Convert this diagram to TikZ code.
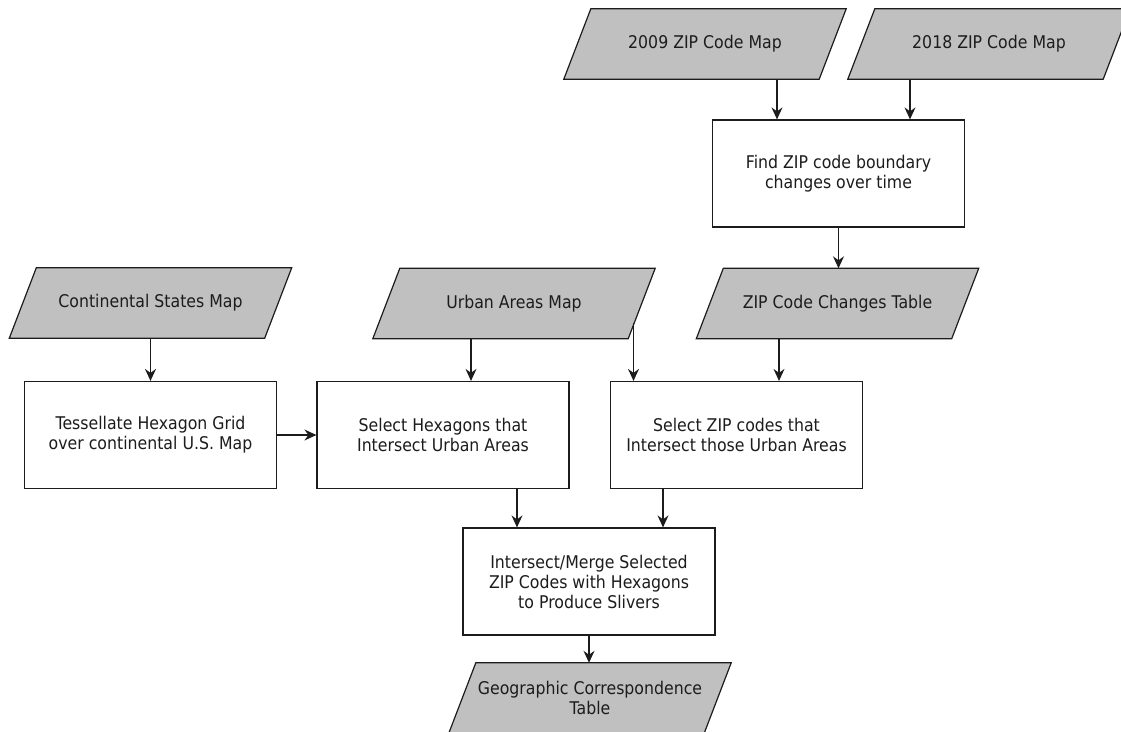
\documentclass[tikz,border=0pt]{standalone}
\usepackage{fontspec}
\setmainfont{DejaVu Sans}[FakeStretch=0.9]
\usetikzlibrary{arrows.meta,backgrounds}
\definecolor{datagray}{RGB}{192,192,192}
\definecolor{inkline}{RGB}{28,28,28}
\begin{document}
\begin{tikzpicture}[x=1pt,y=-1pt,
  every node/.style={font=\fontsize{17.5}{20}\selectfont, text=inkline, align=center},
  procbox/.style={draw=inkline, line width=1.2pt, fill=white,
    minimum width=252pt, minimum height=107pt, inner sep=0pt},
  datapara/.style={minimum width=255pt, minimum height=70pt, inner sep=0pt},
  paraface/.style={fill=datagray, draw=inkline, line width=1.2pt},
  flow/.style={draw=inkline, line width=1.2pt,
    -{Stealth[length=12pt,width=11pt,inset=4pt]}}]
\useasboundingbox (0,0) rectangle (1121,731);

% data inputs and outputs (parallelograms)
\node[datapara] (p2009) at (705,44)    {2009 ZIP Code Map};
\node[datapara] (p2018) at (989,44)    {2018 ZIP Code Map};
\node[datapara] (pcont) at (150.5,303) {Continental States Map};
\node[datapara] (purban) at (514,303.5) {Urban Areas Map};
\node[datapara] (pzip)  at (837.5,303.5) {ZIP Code Changes Table};
\node[datapara] (pgeo)  at (590,698)   {Geographic Correspondence\\Table};

% processing steps
\node[procbox] (find)   at (838.5,173.5) {Find ZIP code boundary\\changes over time};
\node[procbox] (tess)   at (150.5,435)   {Tessellate Hexagon Grid\\over continental U.S. Map};
\node[procbox] (selhex) at (443,435)     {Select Hexagons that\\Intersect Urban Areas};
\node[procbox] (selzip) at (736.5,435)   {Select ZIP codes that\\Intersect those Urban Areas};
\node[procbox] (merge)  at (589,581.5)   {Intersect/Merge Selected\\ZIP Codes with Hexagons\\to Produce Slivers};

% slanted outlines behind the data labels
\begin{scope}[on background layer]
  \foreach \n in {p2009,p2018,pcont,purban,pzip,pgeo}
    \path[paraface] ([xshift=-13.5pt]\n.south west) -- ([xshift=-13.5pt]\n.south east)
      -- ([xshift=13.5pt]\n.north east) -- ([xshift=13.5pt]\n.north west) -- cycle;
\end{scope}

% start of the branch leaving the slanted right side of the urban map
\coordinate (urbanside) at ([xshift=119.5pt,yshift=-19.5pt]purban.center);

% connectors
\draw[flow] ([xshift=72pt]p2009.south) -- ([xshift=72pt]p2009.south |- find.north);
\draw[flow] ([xshift=-79pt]p2018.south) -- ([xshift=-79pt]p2018.south |- find.north);
\draw[flow] (find.south) -- (find.south |- pzip.north);
\draw[flow] (pcont.south) -- (tess.north);
\draw[flow] ([xshift=-43pt]purban.south) -- ([xshift=-43pt]purban.south |- selhex.north);
\draw[flow] (urbanside) -- (urbanside |- selzip.north);
\draw[flow] ([xshift=-58.5pt]pzip.south) -- ([xshift=-58.5pt]pzip.south |- selzip.north);
\draw[flow] (tess.east) -- (selhex.west);
\draw[flow] ([xshift=74pt]selhex.south) -- ([xshift=74pt]selhex.south |- merge.north);
\draw[flow] ([xshift=-73.5pt]selzip.south) -- ([xshift=-73.5pt]selzip.south |- merge.north);
\draw[flow] (merge.south) -- (merge.south |- pgeo.north);
\end{tikzpicture}
\end{document}
